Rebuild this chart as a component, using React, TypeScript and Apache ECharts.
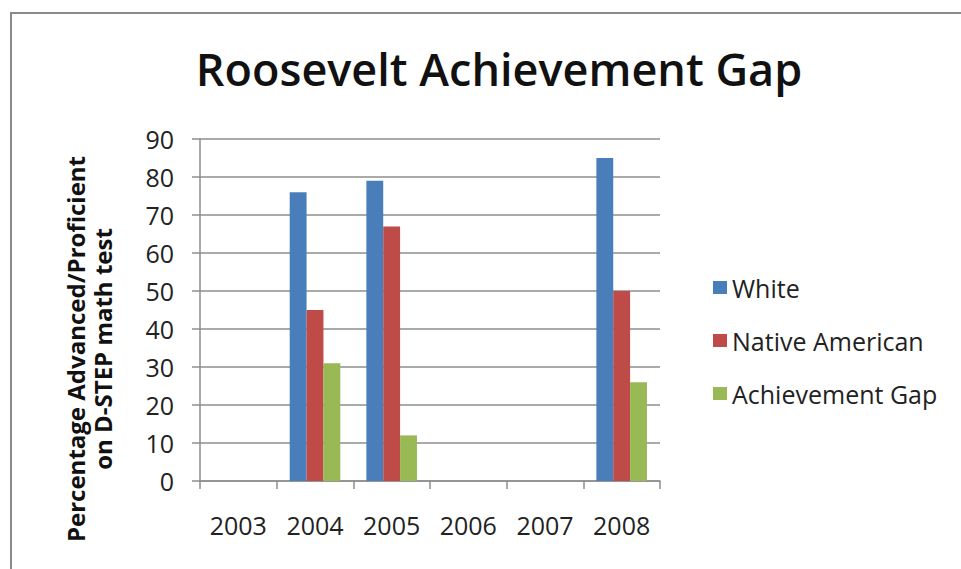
import React, { useEffect, useRef } from "react";
import * as echarts from "echarts";

const years = ["2003", "2004", "2005", "2006", "2007", "2008"];
const white = [null, 76, 79, null, null, 85];
const nativeAmerican = [null, 45, 67, null, null, 50];
const achievementGap = [null, 31, 12, null, null, 26];
const seriesNames = ["White", "Native American", "Achievement Gap"];
const colors = ["#4A7EBB", "#BE4B48", "#98B954"];

export default function App() {
  const ref = useRef<HTMLDivElement>(null);
  useEffect(() => {
    if (!ref.current) return;
    const chart = echarts.init(ref.current, null, { renderer: "svg" });
    const font = "'Open Sans', Lato, sans-serif";
    const grayLine = { color: "#8E8E8E", width: 1.5 };
    chart.setOption({
      animation: false,
      backgroundColor: "#ffffff",
      title: {
        text: "Roosevelt Achievement Gap",
        left: 494,
        top: 41,
        textAlign: "center",
        textStyle: { fontFamily: font, fontSize: 45, fontWeight: 600, color: "#111" },
      },
      graphic: [
        {
          type: "rect",
          shape: { x: 11, y: 13, width: 1200, height: 800 },
          style: { fill: "none", stroke: "#8a8a8a", lineWidth: 2 },
          silent: true,
        },
        {
          type: "text",
          x: 89,
          y: 349,
          rotation: Math.PI / 2,
          style: {
            text: "Percentage Advanced/Proficient\non D-STEP math test",
            fontFamily: font,
            fontSize: 24,
            fontWeight: "bold",
            fill: "#111",
            align: "center",
            verticalAlign: "middle",
            lineHeight: 27,
          },
        },
      ],
      legend: {
        orient: "vertical",
        left: 708,
        top: 270,
        itemGap: 28,
        itemWidth: 14,
        itemHeight: 13,
        icon: "rect",
        textStyle: { fontFamily: font, fontSize: 25, color: "#222" },
        data: seriesNames,
      },
      grid: { left: 200, right: 301, top: 139, bottom: 88, containLabel: false },
      xAxis: {
        type: "category",
        data: years,
        axisLine: { lineStyle: grayLine },
        axisTick: { show: true, length: 8, lineStyle: grayLine },
        axisLabel: { fontFamily: font, fontSize: 25, color: "#222", margin: 31 },
      },
      yAxis: {
        type: "value",
        min: 0,
        max: 90,
        interval: 10,
        axisLine: { show: true, lineStyle: grayLine },
        axisTick: { show: true, length: 8, lineStyle: grayLine },
        splitLine: { lineStyle: grayLine },
        axisLabel: { fontFamily: font, fontSize: 25, color: "#222", margin: 26 },
      },
      series: [
        { name: seriesNames[0], type: "bar", data: white, itemStyle: { color: colors[0] }, barGap: "0%", barCategoryGap: "34%" },
        { name: seriesNames[1], type: "bar", data: nativeAmerican, itemStyle: { color: colors[1] }, barGap: "0%", barCategoryGap: "34%" },
        { name: seriesNames[2], type: "bar", data: achievementGap, itemStyle: { color: colors[2] }, barGap: "0%", barCategoryGap: "34%" },
      ],
    });
    return () => chart.dispose();
  }, []);
  return <div ref={ref} style={{ position: "fixed", left: 0, top: 0, width: 961, height: 569 }} />;
}
